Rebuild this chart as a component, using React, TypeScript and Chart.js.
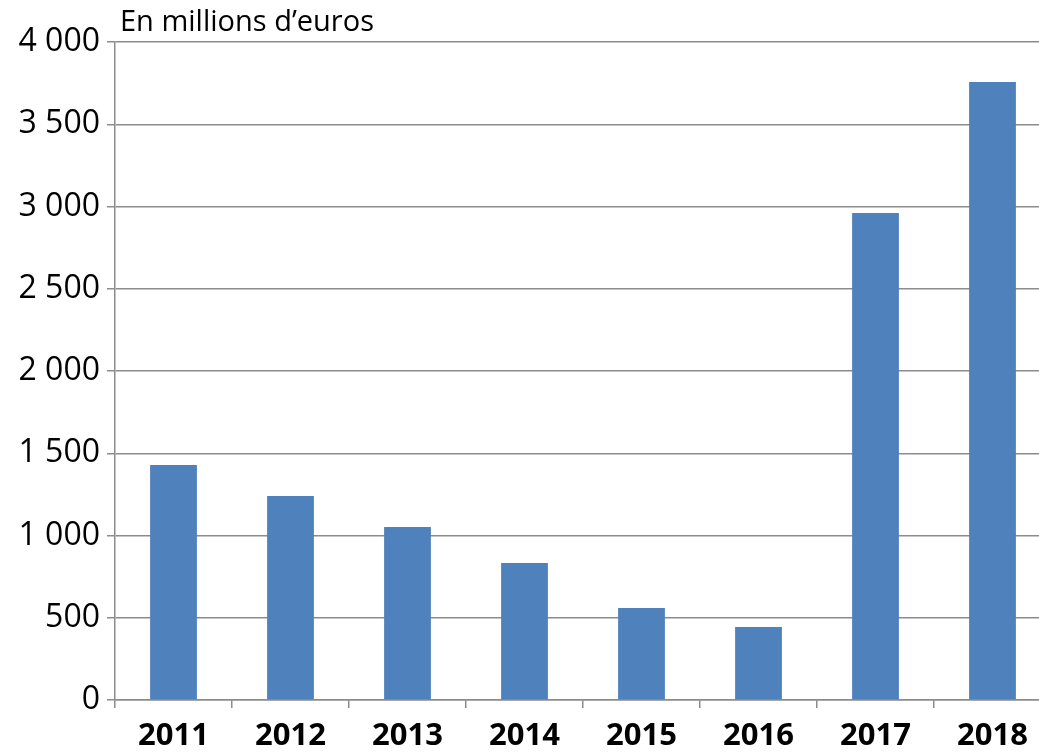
import React, { useEffect, useRef } from "react";
import { Chart, registerables } from "chart.js";

Chart.register(...registerables);

const categories = ["2011", "2012", "2013", "2014", "2015", "2016", "2017", "2018"];
const values = [1428, 1240, 1052, 833, 559, 444, 2960, 3757];
const unitLabel = "En millions d\u2019euros";
const yMax = 4000;
const yStep = 500;

const formatThousands = (v: number) =>
  String(v).replace(/\B(?=(\d{3})+(?!\d))/g, " ");

export default function App() {
  const ref = useRef<HTMLCanvasElement | null>(null);

  useEffect(() => {
    document.body.style.margin = "0";
    const canvas = ref.current;
    if (!canvas) return;
    const titlePlugin = {
      id: "unitTitle",
      afterDraw(chart: any) {
        const { ctx, chartArea } = chart;
        ctx.save();
        ctx.font = "29px 'Open Sans'";
        ctx.fillStyle = "#000";
        ctx.textAlign = "left";
        ctx.textBaseline = "middle";
        ctx.fillText(unitLabel, chartArea.left + 5, chartArea.top - 19);
        ctx.restore();
      },
    };
    const chart = new Chart(canvas, {
      type: "bar",
      data: {
        labels: categories,
        datasets: [
          {
            data: values,
            backgroundColor: "#4F81BD",
            borderColor: "#4F81BD",
            borderWidth: 0,
            barPercentage: 0.4,
            categoryPercentage: 1,
          },
        ],
      },
      options: {
        responsive: false,
        animation: false,
        layout: { padding: { top: 42, right: 0, left: 0, bottom: 0 } },
        plugins: {
          legend: { display: false },
          tooltip: { enabled: false },
        },
        scales: {
          x: {
            grid: {
              display: true,
              drawOnChartArea: false,
              drawTicks: true,
              tickLength: 8,
              color: "#8c8c8c",
              lineWidth: 1.5,
            },
            border: { display: true, color: "#8c8c8c", width: 1.5 },
            ticks: {
              color: "#000",
              font: { family: "'Open Sans'", size: 31, weight: "bold" },
              padding: 10,
              maxRotation: 0,
            },
            afterFit(scale: any) {
              scale.height = 52;
            },
          },
          y: {
            min: 0,
            max: yMax,
            grid: {
              color: "#8c8c8c",
              lineWidth: 1.5,
              drawTicks: true,
              tickLength: 8,
            },
            border: { display: true, color: "#8c8c8c", width: 1.5 },
            ticks: {
              stepSize: yStep,
              color: "#000",
              font: { family: "'Open Sans'", size: 32 },
              padding: 7,
              callback: (v: any) => formatThousands(Number(v)),
            },
            afterFit(scale: any) {
              scale.width = 115;
            },
          },
        },
      },
      plugins: [titlePlugin],
    });
    return () => chart.destroy();
  }, []);

  return (
    <div style={{ width: 1039, height: 752, overflow: "hidden" }}>
      <canvas ref={ref} width={1051} height={752} />
    </div>
  );
}
